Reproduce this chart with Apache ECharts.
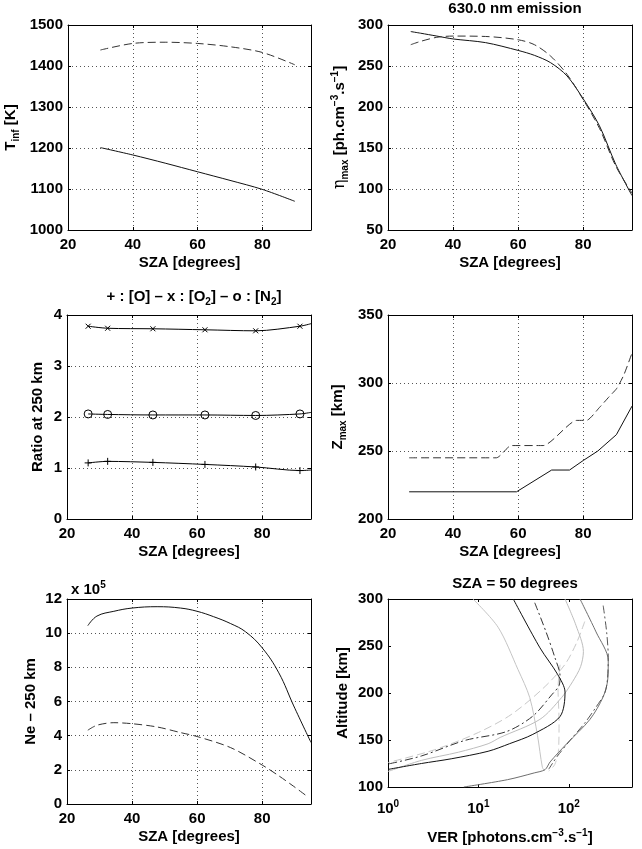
<!DOCTYPE html>
<html>
<head>
<meta charset="utf-8">
<script src="https://cdn.jsdelivr.net/npm/echarts@6/dist/echarts.min.js"></script>
<style>
  html, body { margin: 0; padding: 0; background: #fff; }
  #chart { width: 642px; height: 849px; }
</style>
</head>
<body>
<div id="chart"></div>
<script>
// panel 1 - exospheric temperature
const tinfSza = [30, 40, 50, 60, 70, 80, 90];
const tinfSolid = [1201, 1183, 1163, 1142, 1121, 1099, 1070];
const tinfDashed = [1439, 1455, 1458, 1455, 1447, 1433, 1403];

// panel 2 - 630.0 nm peak emission rate
const etaSza = [27, 30, 35, 40, 50, 60, 65, 70, 75, 80, 85, 90, 95];
const etaSolid = [292, 290, 286.5, 283, 278.5, 269, 263, 254, 238, 210, 177, 130, 92];
const etaDashed = [276, 280, 285, 286.5, 286, 282, 276, 262, 240, 209, 174, 128, 95];

// panel 3 - density ratios at 250 km (last point has no marker)
const ratioSza = [26.5, 32.5, 46.4, 62.4, 78, 91.6, 95];
const ratioO = [1.10, 1.13, 1.11, 1.07, 1.02, 0.95, 0.96];
const ratioO2 = [3.78, 3.74, 3.73, 3.71, 3.69, 3.78, 3.83];
const ratioN2 = [2.06, 2.05, 2.04, 2.04, 2.03, 2.06, 2.09];

// panel 4 - altitude of emission peak
const zSolidSza = [26.5, 59.5, 70.3, 75.8, 80, 84.5, 90.2, 95];
const zSolid = [220, 220, 236, 236, 243, 250, 262, 283];
const zDashedSza = [26.5, 53.3, 57.9, 67.7, 78, 81, 85, 88, 90.3, 92.5, 95];
const zDashed = [245, 245, 254, 254, 272.5, 272.5, 282, 290, 296, 306, 322];

// panel 5 - electron density at 250 km (x 10^5)
const neSolidSza = [26.4, 29.2, 34.4, 40, 47.7, 54.9, 60, 65, 70.3, 74.9, 80, 85.1, 89.7, 95];
const neSolid = [10.44, 11.0, 11.28, 11.47, 11.55, 11.47, 11.28, 10.97, 10.56, 10.08, 9.14, 7.68, 5.74, 3.6];
const neDashedSza = [26.4, 29.2, 34.4, 40, 47.7, 54.9, 60, 70.3, 80, 85.1, 89.7, 93.8];
const neDashed = [4.32, 4.61, 4.76, 4.7, 4.51, 4.18, 3.95, 3.3, 2.28, 1.65, 1.03, 0.45];

// panel 6 - VER profiles, [ver, altitude]
const verBlackSolid = [[24.3,300],[48,248],[75,220],[90.8,201],[80,175],[40,156],[22,146],[12.8,138],[5,130],[2.34,125],[1,118.7]];
const verDarkDashDot = [[42,296],[56,265],[70,238],[80,218],[78,208],[64.6,198],[40,175.4],[20.5,159],[7.06,149.5],[2.34,133],[1,124.4]];
const verLightSolid = [[90.8,300],[120,272],[145,244],[135,228],[110,212],[83,195],[48,172],[17.4,152.7],[12.8,146],[6,137],[2.34,128.3],[1,116.5]];
const verLightDashed = [[150,276],[122,253.5],[90,230],[52,205],[23,177],[10,158],[3.3,139.7],[1,126]];
const verGraySolid = [[133,300],[200,265],[273,234.6],[270,215],[240,196],[171.6,172],[94.8,146],[62,126.6],[54.6,118.5],[41.5,115],[21,107.8],[6.9,100]];
const verGrayDashDot = [[240,293],[262,265],[273,238],[268,215],[250,200],[200,185],[150,168],[103,149.5],[75,133],[67.5,126.6],[60,119]];
const verLightVertical = [[8.7,300],[16.5,270],[27.4,225],[37,195],[45,155],[51,121],[54,117]];
const verLightDashed2 = [[80,230],[76,205],[78,170],[77,140],[70,124],[60,117]];

const FONT = 'Liberation Sans';
const rich = {
  sub: { fontSize: 10, fontWeight: 'bold', fontFamily: FONT, color: '#000', verticalAlign: 'bottom', lineHeight: 10 },
  sup: { fontSize: 10, fontWeight: 'bold', fontFamily: FONT, color: '#000', verticalAlign: 'top', lineHeight: 10 },
  eta: { fontSize: 16, fontWeight: 'normal', fontFamily: 'DejaVu Serif', color: '#000' },
  b: { fontSize: 15, fontWeight: 'bold', fontFamily: FONT, color: '#000', lineHeight: 20 }
};
const nameStyle = { color: '#000', fontSize: 15, fontWeight: 'bold', fontFamily: FONT, lineHeight: 20, rich };
const labelStyle = { color: '#000', fontSize: 15, fontWeight: 'bold', fontFamily: FONT };
const dotted = { show: true, showMinLine: false, showMaxLine: false, lineStyle: { color: '#555', type: [1, 3], width: 1 } };

const grids = [
  { left: 67, top: 25, width: 244, height: 205 },
  { left: 388, top: 25, width: 244, height: 205 },
  { left: 67, top: 315, width: 244, height: 204 },
  { left: 388, top: 315, width: 244, height: 204 },
  { left: 67, top: 599, width: 244, height: 205 },
  { left: 388, top: 599, width: 244, height: 205 }
];

const xAxes = [];
const yAxes = [];

function addX(g, cfg) {
  const base = {
    gridIndex: g, type: 'value',
    axisLine: { show: true, onZero: false, lineStyle: { color: '#000', width: 1 } },
    axisTick: { show: true, inside: true, length: 3, lineStyle: { color: '#000' } }
  };
  xAxes.push(Object.assign({}, base, {
    position: 'bottom', nameLocation: 'middle', nameGap: 23, nameTextStyle: nameStyle,
    axisLabel: Object.assign({ margin: 7 }, labelStyle, cfg.label || {}),
    splitLine: cfg.grid === false ? { show: false } : dotted
  }, cfg.axis));
  xAxes.push(Object.assign({}, base, {
    position: 'top', axisLabel: { show: false }, splitLine: { show: false }
  }, cfg.axis, { name: '' }));
}

function addY(g, cfg) {
  const base = {
    gridIndex: g, type: 'value',
    axisLine: { show: true, onZero: false, lineStyle: { color: '#000', width: 1 } },
    axisTick: { show: true, inside: true, length: 3, lineStyle: { color: '#000' } }
  };
  yAxes.push(Object.assign({}, base, {
    position: 'left', nameLocation: 'middle', nameRotate: 90, nameTextStyle: nameStyle,
    axisLabel: Object.assign({ margin: 5, formatter: v => String(v) }, labelStyle),
    splitLine: cfg.grid === false ? { show: false } : dotted
  }, cfg.axis));
  yAxes.push(Object.assign({}, base, {
    position: 'right', axisLabel: { show: false }, splitLine: { show: false }
  }, cfg.axis, { name: '' }));
}

const szaLabel = { formatter: v => (v % 20 === 0 ? String(v) : '') };
const szaAxis = { min: 20, max: 95, interval: 20, name: 'SZA [degrees]' };

addX(0, { axis: szaAxis, label: szaLabel });
addY(0, { axis: { min: 1000, max: 1500, interval: 100, name: 'T{sub|inf} [K]', nameGap: 47 } });
addX(1, { axis: szaAxis, label: szaLabel });
addY(1, { axis: { min: 50, max: 300, interval: 50, name: '{eta|η}{sub|max} [ph.cm{sup|−3}.s{sup|−1}]', nameGap: 38 } });
addX(2, { axis: szaAxis, label: szaLabel });
addY(2, { axis: { min: 0, max: 4, interval: 1, name: 'Ratio at 250 km', nameGap: 19 } });
addX(3, { axis: szaAxis, label: szaLabel });
addY(3, { axis: { min: 200, max: 350, interval: 50, name: 'Z{sub|max} [km]', nameGap: 40 } });
addX(4, { axis: szaAxis, label: szaLabel });
addY(4, { axis: { min: 0, max: 12, interval: 2, name: 'Ne – 250 km', nameGap: 26 } });
addX(5, {
  grid: false,
  axis: { type: 'log', logBase: 10, min: 1, max: 500, name: 'VER [photons.cm{sup|−3}.s{sup|−1}]', nameGap: 41 },
  label: {
    rich,
    margin: 12,
    formatter: v => {
      const l = Math.log10(v);
      return Math.abs(l - Math.round(l)) < 1e-6 ? '{b|10}{sup|' + Math.round(l) + '}' : '';
    }
  }
});
addY(5, { grid: false, axis: { min: 100, max: 300, interval: 50, name: 'Altitude [km]', nameGap: 35 } });

const zip = (xs, ys) => xs.map((x, i) => [x, ys[i]]);

function line(g, data, color, type, smooth) {
  return {
    type: 'line', xAxisIndex: 2 * g, yAxisIndex: 2 * g, data,
    symbol: 'none', showSymbol: false, smooth: smooth === undefined ? 0.3 : smooth,
    clip: true, animation: false,
    lineStyle: { color, width: 1, type: type || 'solid' }
  };
}

function marked(xs, ys, symbol, size) {
  const data = xs.map((x, i) => (i === xs.length - 1 ? { value: [x, ys[i]], symbol: 'none' } : [x, ys[i]]));
  return {
    type: 'line', xAxisIndex: 4, yAxisIndex: 4, data,
    symbol, symbolSize: size, showSymbol: true, smooth: 0.3, animation: false,
    lineStyle: { color: '#000', width: 1 },
    itemStyle: { color: 'transparent', borderColor: '#000', borderWidth: 1 }
  };
}

const DASH = [8, 4];
const DASHDOT = [8, 3, 2, 3];

const series = [
  line(0, zip(tinfSza, tinfSolid), '#111'),
  line(0, zip(tinfSza, tinfDashed), '#333', DASH),
  line(1, zip(etaSza, etaSolid), '#111'),
  line(1, zip(etaSza, etaDashed), '#333', DASH),
  marked(ratioSza, ratioO, 'path://M5,0L5,10M0,5L10,5', 7),
  marked(ratioSza, ratioO2, 'path://M0,0L10,10M10,0L0,10', 5),
  marked(ratioSza, ratioN2, 'circle', 8),
  line(3, zip(zSolidSza, zSolid), '#111', 'solid', false),
  line(3, zip(zDashedSza, zDashed), '#333', DASH, 0.2),
  line(4, zip(neSolidSza, neSolid), '#111', 'solid', 0.4),
  line(4, zip(neDashedSza, neDashed), '#333', DASH),
  line(5, verLightVertical, '#c4c4c4', 'solid', 0.3),
  line(5, verLightDashed, '#c8c8c8', DASH, 0.3),
  line(5, verLightDashed2, '#cccccc', DASH, 0.3),
  line(5, verLightSolid, '#bdbdbd', 'solid', 0.3),
  line(5, verGraySolid, '#6e6e6e', 'solid', 0.3),
  line(5, verGrayDashDot, '#555', DASHDOT, 0.3),
  line(5, verDarkDashDot, '#333', DASHDOT, 0.3),
  line(5, verBlackSolid, '#111', 'solid', 0.3)
];

const titleStyle = { color: '#000', fontSize: 15, fontWeight: 'bold', fontFamily: FONT, lineHeight: 20, rich };
const titles = [
  { text: '630.0 nm emission', left: 510, top: -6, textAlign: 'center', textStyle: titleStyle },
  { text: '+ : [O] – x : [O{sub|2}] – o : [N{sub|2}]', left: 189, top: 282, textAlign: 'center', textStyle: titleStyle },
  { text: 'SZA = 50 degrees', left: 510, top: 569, textAlign: 'center', textStyle: titleStyle },
  { text: 'x 10{sup|5}', left: 66, top: 575, textStyle: Object.assign({}, titleStyle, { fontSize: 15 }) }
];

const chart = echarts.init(document.getElementById('chart'), null, { renderer: 'canvas' });
chart.setOption({
  backgroundColor: '#fff',
  animation: false,
  title: titles,
  grid: grids,
  xAxis: xAxes,
  yAxis: yAxes,
  series
});
</script>
</body>
</html>
